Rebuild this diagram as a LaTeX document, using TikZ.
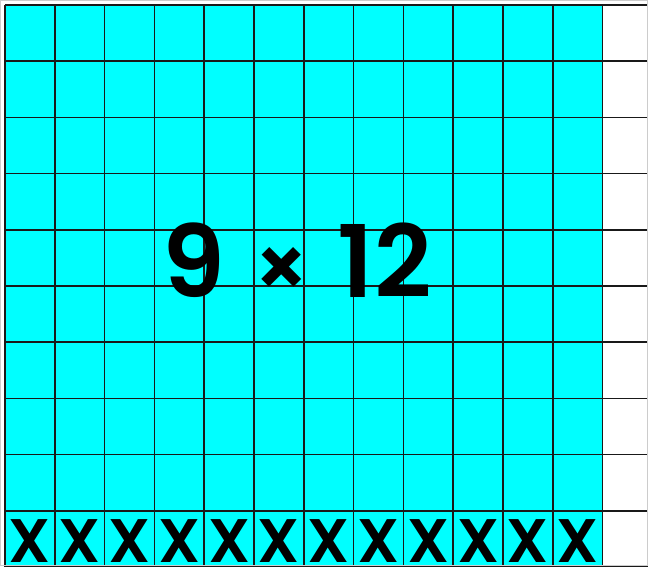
\documentclass[tikz,border=0pt]{standalone}
\usepackage{fontspec}
\newfontfamily\popfont{Poppins}[BoldFont={Poppins SemiBold}]
\usetikzlibrary{positioning}
\definecolor{boardcyan}{RGB}{0,255,255}

\begin{document}
\begin{tikzpicture}[x=0.02cm,y=-0.02cm,
  gridline/.style={draw=black!90,line width=1pt},
  crossmark/.style={font=\popfont\bfseries\fontsize{35}{35}\selectfont,inner sep=0pt,anchor=base}]
\useasboundingbox (0,0) rectangle (648,566);
\clip (0,0) rectangle (648,566);
\fill[white] (0,0) rectangle (648,566);
\fill[boardcyan] (5,5) rectangle (602.6,570);
% grid
\foreach \i in {0,...,12} {\draw[gridline] ({5+49.8*\i},5) -- ({5+49.8*\i},570);}
\foreach \j in {0,...,10} {\draw[gridline] (5,{5+56.2*\j}) -- (660,{5+56.2*\j});}
% bottom row
\foreach \i in {1,...,12} {\node[crossmark] (x\i) at ({5+49.8*(\i-0.5)},562) {X};}
\node[font=\popfont\bfseries\fontsize{57}{57}\selectfont,inner sep=0pt] (prod) at (297,260) {9\hspace{0.28em}{\fontsize{48}{48}\selectfont×}\hspace{0.28em}12};
\draw[gray!40,line width=0.6pt] (0.3,0.3) rectangle (647.7,565.7);
\end{tikzpicture}
\end{document}
